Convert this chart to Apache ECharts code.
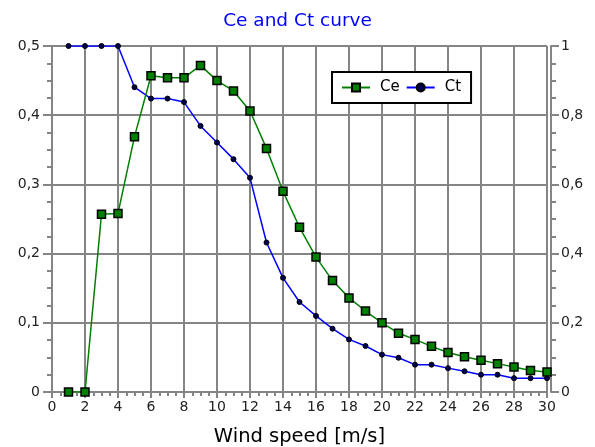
<!DOCTYPE html>
<html>
<head>
<meta charset="utf-8">
<script src="https://cdn.jsdelivr.net/npm/echarts@6/dist/echarts.min.js"></script>
<style>
  html, body { margin: 0; padding: 0; background: #fff; }
  #chart { width: 595px; height: 447px; }
</style>
</head>
<body>
<div id="chart"></div>
<script>
// wind speed [m/s]
const windSpeed = [1, 2, 3, 4, 5, 6, 7, 8, 9, 10, 11, 12, 13, 14, 15,
  16, 17, 18, 19, 20, 21, 22, 23, 24, 25, 26, 27, 28, 29, 30];
// Ce, left axis
const ceValues = [0, 0, 0.257, 0.258, 0.369, 0.457, 0.454, 0.454, 0.472, 0.450,
  0.435, 0.406, 0.352, 0.290, 0.238, 0.195, 0.161, 0.136, 0.117, 0.100,
  0.085, 0.076, 0.066, 0.057, 0.051, 0.046, 0.041, 0.036, 0.031, 0.029];
// Ct, right axis
const ctValues = [1, 1, 1, 1, 0.881, 0.848, 0.848, 0.838, 0.769, 0.721,
  0.673, 0.619, 0.432, 0.330, 0.260, 0.220, 0.183, 0.152, 0.133, 0.108,
  0.099, 0.079, 0.079, 0.069, 0.060, 0.050, 0.050, 0.040, 0.040, 0.040];

const FONT = 'DejaVu Sans';
const GRID_GREY = '#858585';
const comma = v => String(v).replace('.', ',');

const chart = echarts.init(document.getElementById('chart'), null, { renderer: 'canvas' });

const option = {
  backgroundColor: '#fff',
  animation: false,
  title: {
    text: 'Ce and Ct curve',
    left: 'center',
    top: 7,
    textStyle: { color: '#0000ff', fontFamily: FONT, fontSize: 18.5, fontWeight: 'normal' }
  },
  legend: {
    data: ['Ce', 'Ct'],
    left: 332,
    top: 72,
    padding: [8, 10, 8, 9],
    itemGap: 6,
    itemWidth: 28,
    itemHeight: 10,
    backgroundColor: '#fff',
    borderColor: '#000',
    borderWidth: 2,
    borderRadius: 0,
    textStyle: { color: '#000', fontFamily: FONT, fontSize: 15, padding: [0, 0, 0, 5] }
  },
  grid: { left: 52, right: 48, top: 46, bottom: 55, outerBoundsMode: 'none' },
  xAxis: {
    type: 'value',
    min: 0,
    max: 30,
    interval: 2,
    name: 'Wind speed [m/s]',
    nameLocation: 'middle',
    nameGap: 35,
    nameTextStyle: { color: '#000', fontFamily: FONT, fontSize: 19.5 },
    axisLine: { lineStyle: { color: GRID_GREY, width: 2 } },
    axisTick: { length: 6, lineStyle: { color: GRID_GREY, width: 2 } },
    minorTick: { show: true, splitNumber: 4, length: 4, lineStyle: { color: GRID_GREY, width: 2 } },
    axisLabel: { color: '#222', fontFamily: FONT, fontSize: 14, margin: 8 },
    splitLine: { show: true, lineStyle: { color: GRID_GREY, width: 2 } }
  },
  yAxis: [
    {
      type: 'value',
      min: 0,
      max: 0.5,
      interval: 0.1,
      axisLine: { show: true, lineStyle: { color: GRID_GREY, width: 2 } },
      axisTick: { show: true, length: 9, lineStyle: { color: GRID_GREY, width: 2 } },
      minorTick: { show: true, splitNumber: 4, length: 5, lineStyle: { color: GRID_GREY, width: 2 } },
      axisLabel: { color: '#222', fontFamily: FONT, fontSize: 14, margin: 12, formatter: comma },
      splitLine: { show: true, lineStyle: { color: GRID_GREY, width: 2 } }
    },
    {
      type: 'value',
      min: 0,
      max: 1,
      interval: 0.2,
      position: 'right',
      offset: 4,
      axisLine: { show: true, lineStyle: { color: GRID_GREY, width: 2 } },
      axisTick: { show: true, length: 8, lineStyle: { color: GRID_GREY, width: 2 } },
      minorTick: { show: true, splitNumber: 4, length: 5, lineStyle: { color: GRID_GREY, width: 2 } },
      axisLabel: { color: '#222', fontFamily: FONT, fontSize: 14, margin: 10, formatter: comma },
      splitLine: { show: false }
    }
  ],
  series: [
    {
      name: 'Ce',
      type: 'line',
      yAxisIndex: 0,
      data: windSpeed.map((x, i) => [x, ceValues[i]]),
      symbol: 'rect',
      symbolSize: 8,
      z: 3,
      lineStyle: { color: '#008000', width: 1.5 },
      itemStyle: { color: '#008000', borderColor: '#000', borderWidth: 1.5 }
    },
    {
      name: 'Ct',
      type: 'line',
      yAxisIndex: 1,
      data: windSpeed.map((x, i) => [x, ctValues[i]]),
      symbol: 'circle',
      symbolSize: 5,
      z: 2,
      lineStyle: { color: '#0000ff', width: 1.5 },
      itemStyle: { color: '#000050', borderColor: '#000', borderWidth: 1 }
    }
  ]
};

chart.setOption(option);
</script>
</body>
</html>
